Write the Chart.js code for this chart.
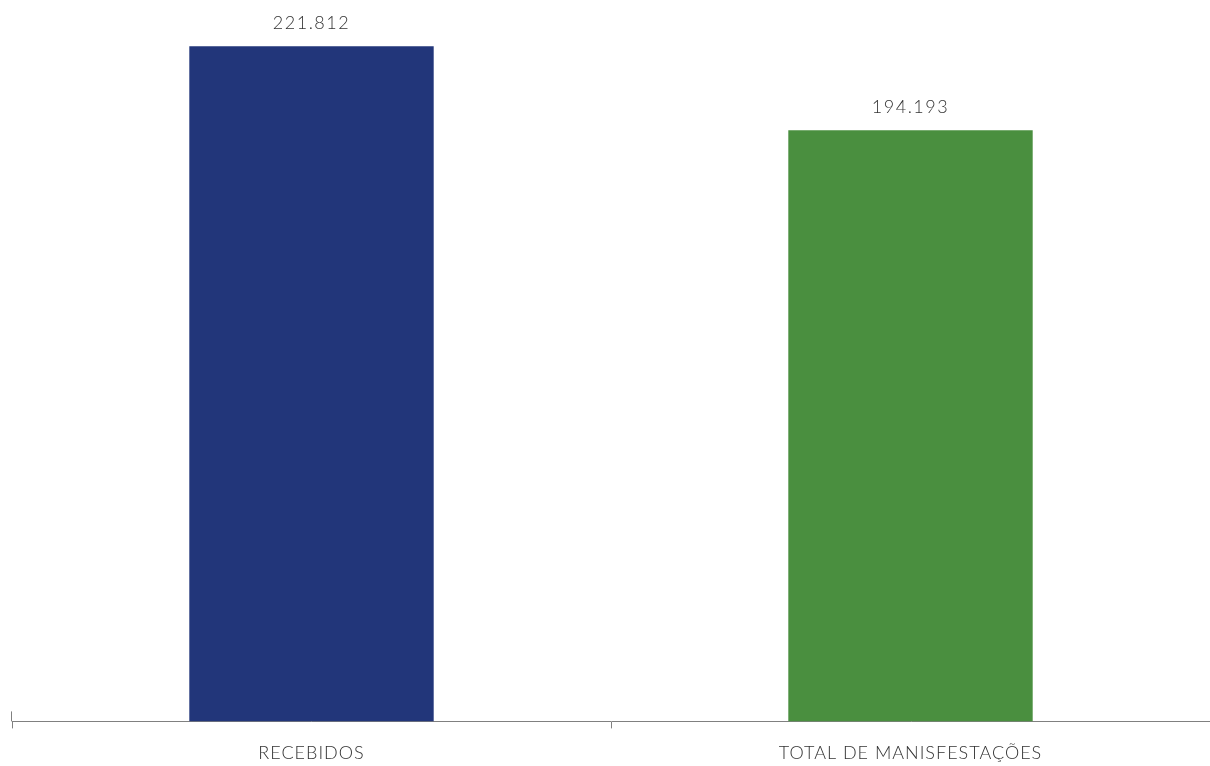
<!DOCTYPE html>
<html>
<head>
<meta charset="utf-8">
<script src="https://cdn.jsdelivr.net/npm/chart.js@4"></script>
<style>
  html, body { margin: 0; padding: 0; background: #fff; }
  #wrap { width: 1210px; height: 766px; }
</style>
</head>
<body>
<div id="wrap"><canvas id="chart"></canvas></div>
<script>
const categories = ['RECEBIDOS', 'TOTAL DE MANISFESTAÇÕES'];
const values     = [221812, 194193];
const barColors  = ['#22367A', '#4A8F3F'];

const fmt = v => String(v).replace(/\B(?=(\d{3})+(?!\d))/g, '.');

// value labels above bars
const valueLabels = {
  id: 'valueLabels',
  afterDatasetsDraw(chart) {
    const ctx = chart.ctx;
    ctx.save();
    ctx.font = '300 18px Lato';
    ctx.letterSpacing = '1.5px';
    ctx.fillStyle = '#333';
    ctx.textAlign = 'center';
    ctx.textBaseline = 'bottom';
    chart.getDatasetMeta(0).data.forEach((bar, i) => {
      ctx.fillText(fmt(values[i]), bar.x, bar.y - 14);
    });
    ctx.restore();
  }
};

// label spacing for the category ticks
const tickSpacing = {
  id: 'tickSpacing',
  beforeDraw(chart) { chart.ctx.letterSpacing = '1px'; },
};

// small tick crossing the axis at the left end
const leftTick = {
  id: 'leftTick',
  afterDraw(chart) {
    const { ctx, chartArea } = chart;
    ctx.save();
    ctx.strokeStyle = '#808080';
    ctx.lineWidth = 1;
    ctx.beginPath();
    ctx.moveTo(chartArea.left - 0.5, chartArea.bottom - 10);
    ctx.lineTo(chartArea.left - 0.5, chartArea.bottom);
    ctx.stroke();
    ctx.restore();
  }
};

new Chart(document.getElementById('chart'), {
  type: 'bar',
  data: {
    labels: categories,
    datasets: [{
      data: values,
      backgroundColor: barColors,
      borderWidth: 0,
      barPercentage: 0.408,
      categoryPercentage: 1,
    }],
  },
  options: {
    responsive: true,
    maintainAspectRatio: false,
    animation: false,
    layout: { padding: { left: 12, right: 0, top: 0, bottom: -12 } },
    plugins: { legend: { display: false }, tooltip: { enabled: false } },
    scales: {
      x: {
        grid: { display: true, drawOnChartArea: false, tickLength: 7, color: '#808080' },
        border: { display: true, color: '#808080', width: 1 },
        ticks: { color: '#333', font: { family: 'Lato', size: 18, weight: '300' }, padding: 14 },
      },
      y: { display: false, min: 0, max: 237000 },
    },
  },
  plugins: [tickSpacing, valueLabels, leftTick],
});
</script>
</body>
</html>
